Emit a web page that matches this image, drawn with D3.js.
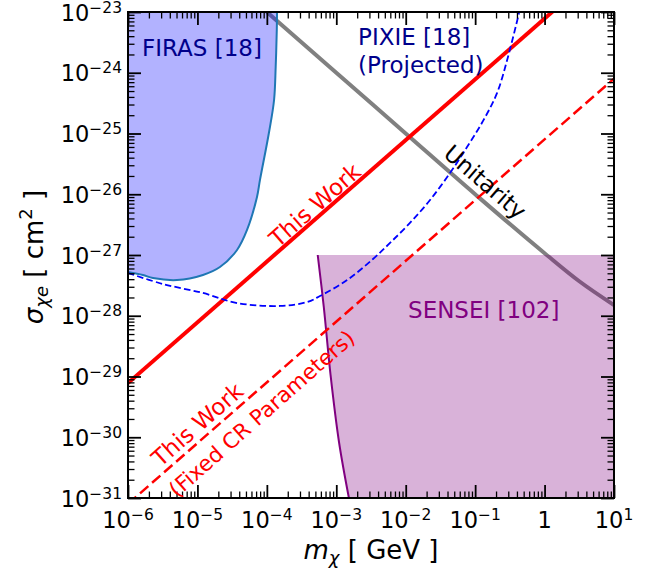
<!DOCTYPE html>
<meta charset="utf-8">
<style>
body { margin: 0; background: #fff; }
svg { font-family: "DejaVu Sans", sans-serif; }
.tick line { stroke: #000; }
</style>
<svg width="652" height="573"></svg>
<script src="https://cdn.jsdelivr.net/npm/d3@7"></script>
<script>
// values (mass in GeV, cross section in cm^2)
var firasMass  = [1e-6, 1.64e-6, 2.29e-6, 5.08e-6, 1.2e-5, 2.11e-5, 3.72e-5, 5.18e-5, 7.21e-5, 7.96e-5, 1.07e-4, 1.27e-4, 1.34e-4, 1.39e-4, 1.40e-4];
var firasSigma = [5.25e-28, 4.69e-28, 4.18e-28, 3.87e-28, 4.69e-28, 6.34e-28, 1.21e-27, 2.58e-27, 9.02e-27, 1.72e-26, 1.02e-25, 3.56e-25, 1.24e-24, 5.06e-24, 1e-23];

var pixieMass  = [1e-6, 3.19e-6, 1.2e-5, 3.72e-5, 1.55e-4, 3.79e-4, 5.82e-4, 1.43e-3, 3.38e-3, 5.94e-3, 1.15e-2, 2.24e-2, 4.35e-2, 7.64e-2, 0.130, 0.207, 0.297, 0.429];
var pixieSigma = [5.06e-28, 3.33e-28, 2.37e-28, 1.62e-28, 1.45e-28, 1.68e-28, 2.11e-28, 3.87e-28, 8.59e-28, 1.58e-27, 3.37e-27, 8.04e-27, 2.24e-26, 6.0e-26, 1.61e-25, 4.65e-25, 1.82e-24, 9.64e-24];

var senseiMass  = [5.4e-4, 6.61e-4, 8.26e-4, 1.094e-3, 1.52e-3];
var senseiSigma = [1e-27, 1.39e-28, 1.07e-29, 8.36e-31, 1e-31];
var senseiTop = 1e-27;

var unitMass  = [1e-4, 1e-3, 1e-2, 1e-1, 1, 3.16, 10];
var unitSigma = [1e-23, 1e-24, 1e-25, 1e-26, 1.07e-27, 3.7e-28, 1.5e-28];

var workMass  = [1e-6, 10];
var workSigma = [7.8e-30, 7.8e-23];
var fixedSigma = [8e-32, 8e-25];

var xMajor = [1e-6, 1e-5, 1e-4, 1e-3, 1e-2, 1e-1, 1, 10];
var xTickLabels = [["10","−6"],["10","−5"],["10","−4"],["10","−3"],["10","−2"],["10","−1"],["1",""],["10","1"]];
var yMajor = [1e-31, 1e-30, 1e-29, 1e-28, 1e-27, 1e-26, 1e-25, 1e-24, 1e-23];
var yTickLabels = [["10","−31"],["10","−30"],["10","−29"],["10","−28"],["10","−27"],["10","−26"],["10","−25"],["10","−24"],["10","−23"]];

var svg = d3.select("svg"),
    margin = {top: 12, right: 38, bottom: 75, left: 128},
    width = +svg.attr("width") - margin.left - margin.right,
    height = +svg.attr("height") - margin.top - margin.bottom,
    g = svg.append("g").attr("transform", "translate(" + margin.left + "," + margin.top + ")");

var x = d3.scaleLog().domain([1e-6, 10]).range([0, width]),
    y = d3.scaleLog().domain([1e-31, 1e-23]).range([height, 0]);

function pairs(a, b) { return a.map(function(v, i) { return [v, b[i]]; }); }

g.append("clipPath").attr("id", "clip")
  .append("rect").attr("width", width).attr("height", height);

var plot = g.append("g").attr("clip-path", "url(#clip)");

var straight = d3.line().x(function(d) { return x(d[0]); }).y(function(d) { return y(d[1]); });
var smooth = d3.line().curve(d3.curveCatmullRom.alpha(0.5))
    .x(function(d) { return x(d[0]); }).y(function(d) { return y(d[1]); });
var mono = d3.line().curve(d3.curveMonotoneX)
    .x(function(d) { return x(d[0]); }).y(function(d) { return y(d[1]); });

// unitarity (drawn first, the fills sit over it)
plot.append("path")
    .attr("d", mono(pairs(unitMass, unitSigma)))
    .attr("fill", "none").attr("stroke", "#808080").attr("stroke-width", 4);

// FIRAS region
var firas = pairs(firasMass, firasSigma);
plot.append("path")
    .attr("d", smooth(firas) + "L" + x(1e-6) + "," + y(1e-23) + "Z")
    .attr("fill", "blue").attr("fill-opacity", 0.3);
plot.append("path")
    .attr("d", smooth(firas))
    .attr("fill", "none").attr("stroke", "#1f77b4").attr("stroke-width", 2);

// SENSEI region
var sensei = pairs(senseiMass, senseiSigma);
plot.append("path")
    .attr("d", smooth(sensei) + "L" + x(10) + "," + y(1e-31) + "L" + x(10) + "," + y(senseiTop) + "Z")
    .attr("fill", "purple").attr("fill-opacity", 0.3);
plot.append("path")
    .attr("d", smooth(sensei))
    .attr("fill", "none").attr("stroke", "purple").attr("stroke-width", 2);

// this work
plot.append("path")
    .attr("d", straight(pairs(workMass, workSigma)))
    .attr("fill", "none").attr("stroke", "red").attr("stroke-width", 4);
plot.append("path")
    .attr("d", straight(pairs(workMass, fixedSigma)))
    .attr("fill", "none").attr("stroke", "red").attr("stroke-width", 2.5)
    .attr("stroke-dasharray", "11,5");

// PIXIE
plot.append("path")
    .attr("d", smooth(pairs(pixieMass, pixieSigma)))
    .attr("fill", "none").attr("stroke", "blue").attr("stroke-width", 1.8)
    .attr("stroke-dasharray", "6.5,3.2");

// ticks, all pointing in
var xMinor = [], yMinor = [];
for (var k = -6; k < 1; k++) for (var j = 2; j < 10; j++) xMinor.push(j * Math.pow(10, k));
for (var k = -31; k < -23; k++) for (var j = 2; j < 10; j++) yMinor.push(j * Math.pow(10, k));

function drawAxis(axis, tr, vals, size, sw) {
  var a = g.append("g").attr("transform", tr)
      .call(axis.tickValues(vals).tickSize(-size).tickFormat(""));
  a.select(".domain").remove();
  a.selectAll(".tick line").attr("stroke-width", sw);
}
function sides() {
  return [[d3.axisBottom(x), "translate(0," + height + ")", xMajor, xMinor],
          [d3.axisTop(x), "translate(0,0)", xMajor, xMinor],
          [d3.axisLeft(y), "translate(0,0)", yMajor, yMinor],
          [d3.axisRight(y), "translate(" + width + ",0)", yMajor, yMinor]];
}
sides().forEach(function(s) { drawAxis(s[0], s[1], s[2], 13, 1.8); });
sides().forEach(function(s) { drawAxis(s[0], s[1], s[3], 6.5, 1.3); });

g.append("rect").attr("width", width).attr("height", height)
    .attr("fill", "none").attr("stroke", "#000").attr("stroke-width", 2);

// tick labels
var xl = g.append("g").selectAll("text").data(xMajor).enter().append("text")
    .attr("x", function(d) { return x(d); })
    .attr("y", height + 30)
    .attr("text-anchor", "middle")
    .style("font-size", "22.5px");
xl.append("tspan").text(function(d, i) { return xTickLabels[i][0]; });
xl.append("tspan").attr("dy", -8.5).style("font-size", "15.5px").text(function(d, i) { return xTickLabels[i][1]; });

var yl = g.append("g").selectAll("text").data(yMajor).enter().append("text")
    .attr("x", -6)
    .attr("y", function(d) { return y(d) + 8.5; })
    .attr("text-anchor", "end")
    .style("font-size", "22.5px");
yl.append("tspan").text(function(d, i) { return yTickLabels[i][0]; });
yl.append("tspan").attr("dy", -8).style("font-size", "15.5px").text(function(d, i) { return yTickLabels[i][1]; });

// axis titles
var xt = g.append("text")
    .attr("x", width / 2).attr("y", height + 61)
    .attr("text-anchor", "middle").style("font-size", "26px");
xt.append("tspan").style("font-style", "italic").text("m");
xt.append("tspan").style("font-style", "italic").style("font-size", "18px").attr("dy", 5).text("χ");
xt.append("tspan").attr("dy", -5).text(" [ GeV ]");

var yt = g.append("text")
    .attr("transform", "translate(-85," + (height / 2 + 2) + ") rotate(-90)")
    .attr("text-anchor", "middle").style("font-size", "26px");
yt.append("tspan").style("font-style", "italic").text("σ");
yt.append("tspan").style("font-style", "italic").style("font-size", "18px").attr("dy", 5).text("χe");
yt.append("tspan").attr("dy", -5).text(" [ cm");
yt.append("tspan").style("font-size", "18px").attr("dy", -11).text("2");
yt.append("tspan").attr("dy", 11).text(" ]");

// annotations
function note(m, s, txt, color, anchor, angle) {
  var t = g.append("text")
      .attr("transform", "translate(" + x(m) + "," + y(s) + ") rotate(" + (angle || 0) + ")")
      .attr("text-anchor", anchor)
      .attr("fill", color)
      .style("font-size", "23px")
      .text(txt);
  if (angle) t.attr("dy", "0.35em");
  return t;
}
note(1.59e-6, 1.89e-24, "FIRAS [18]", "#00008b", "start");
note(2.06e-3, 2.87e-24, "PIXIE [18]", "#00008b", "start");
note(2.06e-3, 2.87e-24, "(Projected)", "#00008b", "start").attr("dy", 28);
note(1.08e-2, 9.2e-29, "SENSEI [102]", "purple", "start");
note(0.139, 1.59e-26, "Unitarity", "#000", "middle", 40.7);
note(4.93e-4, 6.65e-27, "This Work", "red", "middle", -41.2);
note(1.0e-5, 1.62e-30, "This Work", "red", "middle", -41.4);
note(8.4e-5, 2.45e-30, "(Fixed CR Parameters)", "red", "middle", -41.4).style("font-size", "21.5px");
</script>
